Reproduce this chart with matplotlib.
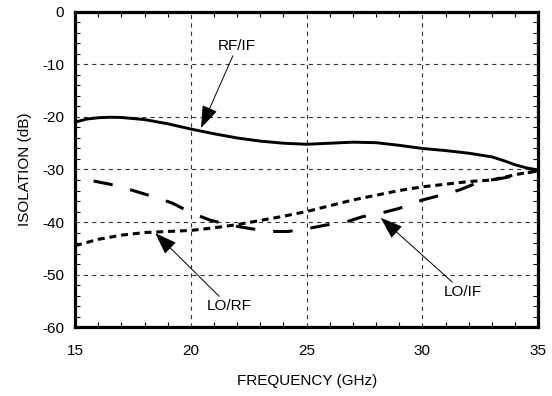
import matplotlib
matplotlib.use("Agg")
import matplotlib.pyplot as plt
import numpy as np
from matplotlib.ticker import MultipleLocator

plt.rcParams['font.family'] = ['Liberation Sans', 'DejaVu Sans']
plt.rcParams['lines.scale_dashes'] = False
plt.rcParams['axes.unicode_minus'] = False

# RF/IF isolation (solid)
rf_if_freq = np.array([15, 15.5, 16, 16.5, 17, 18, 19, 20, 21, 22, 23, 24, 25, 26, 27,
                       28, 29, 30, 31, 32, 33, 33.5, 34, 34.5, 35])
rf_if_db = np.array([-21.0, -20.4, -20.15, -20.05, -20.1, -20.5, -21.3, -22.3, -23.2, -24.0,
                     -24.6, -25.0, -25.2, -25.0, -24.8, -24.9, -25.4, -26.0, -26.4, -26.9,
                     -27.6, -28.3, -29.1, -29.7, -30.1])

# LO/RF isolation (short dashes)
lo_rf_freq = np.array([15, 16, 17, 18, 19, 20, 21, 22, 23, 24, 25, 26, 27, 28, 29, 30,
                       31, 32, 33, 34, 35])
lo_rf_db = np.array([-44.5, -43.3, -42.5, -42.0, -41.8, -41.6, -41.1, -40.5, -39.7, -38.9,
                     -38.0, -36.9, -35.8, -34.9, -34.0, -33.3, -32.8, -32.3, -32.0, -31.0,
                     -30.2])

# LO/IF isolation (long dashes)
lo_if_freq = np.array([15.8, 16.5, 17.5, 18.4, 19.2, 20.0, 20.8, 21.7, 22.5, 23.4, 24.2,
                       25.0, 25.8, 26.7, 27.4, 28.3, 29.0, 30.0, 30.8, 31.6, 32.5, 33.4,
                       34.2, 35.0])
lo_if_db = np.array([-32.2, -32.8, -34.0, -35.2, -36.4, -38.2, -39.6, -40.6, -41.2, -41.8,
                     -41.8, -41.3, -40.6, -40.0, -39.0, -38.2, -37.4, -35.8, -34.9, -33.9,
                     -32.3, -31.7, -31.0, -30.2])

fs = 11

fig = plt.figure(figsize=(5.52, 3.96), dpi=100)
ax = fig.add_axes([0.136, 0.174, 0.839, 0.796])

ax.plot(rf_if_freq, rf_if_db, color='black', lw=2.1, solid_capstyle='butt')
ax.plot(lo_rf_freq, lo_rf_db, color='black', lw=2.2, dashes=(5, 3.5))
ax.plot(lo_if_freq, lo_if_db, color='black', lw=2.2, dashes=(14, 13))

ax.set_xlim(15, 35)
ax.set_ylim(-60, 0)
ax.xaxis.set_major_locator(MultipleLocator(5))
ax.xaxis.set_minor_locator(MultipleLocator(1))
ax.yaxis.set_major_locator(MultipleLocator(10))
ax.yaxis.set_minor_locator(MultipleLocator(2))
ax.grid(True, which='major', color='#333333', lw=0.8, dashes=(3, 3))

for s in ax.spines.values():
    s.set_linewidth(2.3)
ax.tick_params(which='both', direction='in', top=True, right=True, width=0.8)
ax.tick_params(which='major', length=0)
ax.tick_params(which='minor', length=3.5)
ax.tick_params(axis='x', which='major', pad=12, labelsize=fs)
ax.tick_params(axis='y', which='major', pad=8, labelsize=fs)

ax.set_xlabel('FREQUENCY (GHz)', fontsize=fs, labelpad=12)
ax.set_ylabel('ISOLATION (dB)', fontsize=fs, labelpad=7)

arrow = dict(arrowstyle='-|>,head_length=1.4,head_width=0.5', color='black',
             lw=0.7, mutation_scale=10, shrinkA=0, shrinkB=0)
ax.annotate('RF/IF', xy=(20.44, -22.1), xytext=(22.0, -6.5), fontsize=fs,
            ha='center', va='center', arrowprops=arrow)
ax.annotate('LO/RF', xy=(18.46, -42.1), xytext=(21.65, -56.0), fontsize=fs,
            ha='center', va='center', arrowprops=arrow)
ax.annotate('LO/IF', xy=(28.2, -39.2), xytext=(31.76, -53.3), fontsize=fs,
            ha='center', va='center', arrowprops=arrow)

fig.savefig('out.png', dpi=100)
